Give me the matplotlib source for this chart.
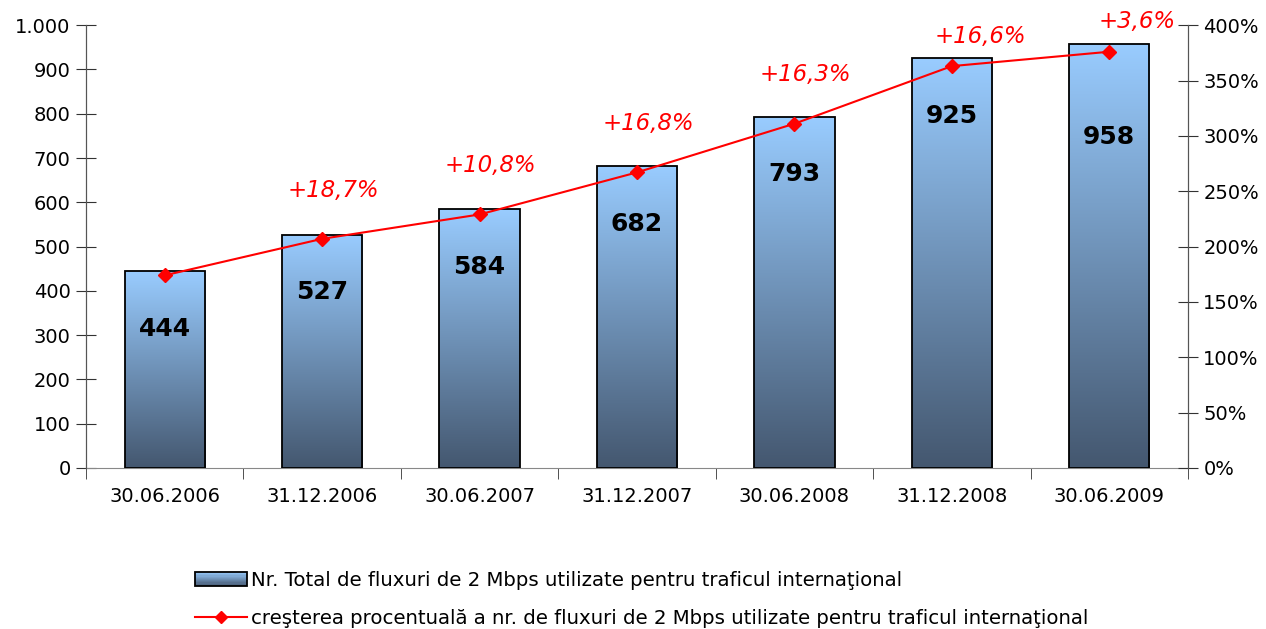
import matplotlib
matplotlib.use("Agg")
import matplotlib.pyplot as plt
import numpy as np
from matplotlib.patches import Rectangle
from matplotlib.lines import Line2D
from matplotlib.legend_handler import HandlerBase
from matplotlib.colors import LinearSegmentedColormap
from matplotlib.ticker import FuncFormatter, MultipleLocator

categories = ["30.06.2006", "31.12.2006", "30.06.2007", "31.12.2007",
              "30.06.2008", "31.12.2008", "30.06.2009"]
totals = [444, 527, 584, 682, 793, 925, 958]
growth_pct = [174, 207, 229, 267, 311, 363, 376]
growth_labels = ["", "+18,7%", "+10,8%", "+16,8%", "+16,3%", "+16,6%", "+3,6%"]

bar_label = "Nr. Total de fluxuri de 2 Mbps utilizate pentru traficul internaţional"
line_label = "creşterea procentuală a nr. de fluxuri de 2 Mbps utilizate pentru traficul internaţional"

plt.rcParams['font.family'] = ['DejaVu Sans']

top_c = "#99CCFF"
bot_c = "#44576F"
cmap = LinearSegmentedColormap.from_list("g", [bot_c, top_c])

fig = plt.figure(figsize=(12.66, 6.29), dpi=100)
ax = fig.add_axes([0.0679, 0.256, 0.8705, 0.704])
ax2 = ax.twinx()

x = np.arange(len(categories))
w = 0.51
bars = ax.bar(x, totals, width=w, facecolor="none", edgecolor="black", linewidth=1.3, zorder=3)
grad = np.linspace(0, 1, 256).reshape(-1, 1)
for b in bars:
    x0, y0 = b.get_x(), b.get_y()
    bw, bh = b.get_width(), b.get_height()
    im = ax.imshow(grad, cmap=cmap, origin="lower", aspect="auto",
                   extent=[x0, x0 + bw, y0, y0 + bh], zorder=2)
    clip = Rectangle((x0, y0), bw, bh, transform=ax.transData)
    im.set_clip_path(clip)

for i, v in enumerate(totals):
    off = 210 if i == len(totals) - 1 else 130
    ax.text(x[i], v - off, f"{v}", ha="center", va="center",
            fontsize=18, fontweight="bold", color="black", zorder=5)

ax.set_xlim(-0.5, len(categories) - 0.5)
ax.set_ylim(0, 1000)
ax.yaxis.set_major_locator(MultipleLocator(100))
ax.yaxis.set_major_formatter(FuncFormatter(lambda v, p: f"{int(v):,}".replace(",", ".")))
ax.set_xticks(x)
ax.set_xticklabels(categories)
ax.set_xticks(np.arange(-0.5, len(categories), 1.0), minor=True)
ax.tick_params(axis="x", which="major", length=0, pad=14, labelsize=14)
ax.tick_params(axis="x", which="minor", length=8, direction="out", color="#333333")
ax.tick_params(axis="y", which="major", length=14, direction="inout", labelsize=14, pad=4, color="#333333")

ax2.plot(x, growth_pct, color="#FF0000", linewidth=1.5, marker="D", markersize=7,
         markeredgecolor="#FF0000", zorder=6)
ax2.set_ylim(0, 400)
ax2.yaxis.set_major_locator(MultipleLocator(50))
ax2.yaxis.set_major_formatter(FuncFormatter(lambda v, p: f"{int(v)}%"))
ax2.tick_params(axis="y", length=14, direction="inout", labelsize=14, pad=4, color="#333333")

for i, t in enumerate(growth_labels):
    if t:
        late = i >= 5
        dx = 0.18 if late else 0.07
        dy = 27 if late else 44
        ax2.text(x[i] + dx, growth_pct[i] + dy, t, ha="center", va="center",
                 fontsize=16.5, style="italic", color="#FF0000", zorder=7)

for a in (ax, ax2):
    a.spines["top"].set_visible(False)
    a.spines["left"].set_color("#555555")
    a.spines["right"].set_color("#555555")
    a.spines["bottom"].set_color("#888888")
ax2.spines["bottom"].set_visible(False)
ax.set_zorder(1)
ax2.set_zorder(2)
ax2.patch.set_visible(False)


class GradHandler(HandlerBase):
    def create_artists(self, legend, orig, xd, yd, width, height, fontsize, trans):
        arts = []
        n = 12
        for k in range(n):
            c = cmap(1 - (k + 0.5) / n)
            r = Rectangle((xd, yd + height - (k + 1) * height / n), width, height / n,
                          facecolor=c, edgecolor="none", transform=trans)
            arts.append(r)
        arts.append(Rectangle((xd, yd), width, height, facecolor="none",
                              edgecolor="black", linewidth=1.3, transform=trans))
        return arts


bar_handle = Rectangle((0, 0), 1, 1)
line_handle = Line2D([], [], color="#FF0000", linewidth=1.5, marker="D", markersize=6)
fig.legend([bar_handle, line_handle], [bar_label, line_label],
           handler_map={Rectangle: GradHandler()},
           loc="upper left", bbox_to_anchor=(0.148, 0.105), frameon=False,
           fontsize=14.2, handlelength=2.6, handletextpad=0.25, labelspacing=0.95,
           borderaxespad=0)

fig.savefig("out.png", dpi=100)
